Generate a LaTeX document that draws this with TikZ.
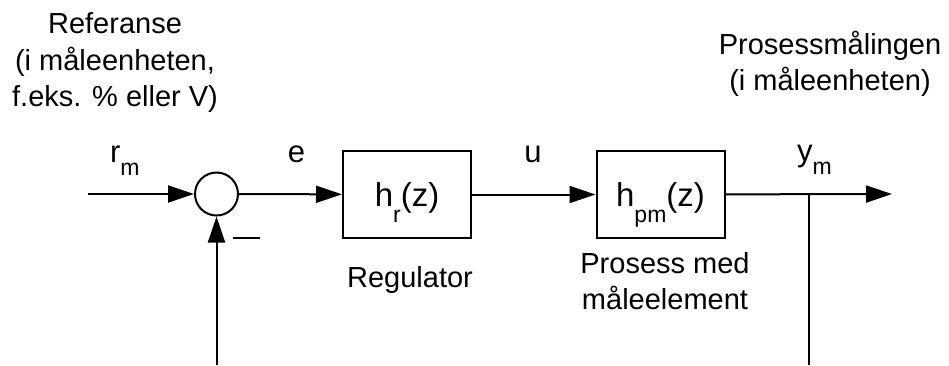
\documentclass[tikz,border=0pt]{standalone}
\usepackage{fontspec}
\setmainfont{Liberation Sans}
\usetikzlibrary{arrows.meta}
% #1 size, #2 drop, #3 text
\newcommand{\subtxt}[3]{\raisebox{-#2}{\fontsize{#1}{#1}\selectfont #3}}
\begin{document}
\begin{tikzpicture}[x=1pt,y=-1pt, line width=2pt,
  every node/.style={font=\fontsize{29}{36.5}\selectfont, inner sep=0pt},
  blockbox/.style={draw, minimum width=128pt, minimum height=87pt,
    font=\fontsize{33}{33}\selectfont, text height=23pt, text depth=0pt},
  sumcirc/.style={draw, circle, minimum size=43pt},
  sig/.style={-{Triangle[length=26pt,width=17pt]}},
  siglbl/.style={font=\fontsize{31}{31}\selectfont},
  lbl/.style={align=center}]
\useasboundingbox (0,0) rectangle (949,365);
% blocks
\node[sumcirc] (sum) at (216.5,194) {};
\node[blockbox] (reg) at (407,194.5) {h\subtxt{23}{16pt}{r}(z)};
\node[blockbox] (proc) at (660.5,194.5) {h\subtxt{23}{16pt}{pm}(z)};
% coordinates
\coordinate (in) at (88,194);
\coordinate (branch) at (809,194);
\coordinate (out) at (892,194);
\coordinate (fbbot) at (809,365);
\coordinate (sumbot) at (216.5,365);
% connectors
\draw[sig] (in) -- (sum);
\draw[sig] (sum) -- (reg);
\draw[sig] (reg) -- (proc);
\draw[sig] (proc) -- (out);
\draw (branch) -- (fbbot);
\draw[sig] (sumbot) -- (sum);
% signal labels
\node[siglbl, anchor=base west] (rm) at (109,162) {r\subtxt{23}{13pt}{m}};
\node[siglbl, anchor=base] (e) at (296.5,162) {e};
\node[siglbl, anchor=base] (u) at (533,162) {u};
\node[siglbl, anchor=base west] (ym) at (796,161) {y\subtxt{23}{13pt}{m}};
\node (minus) at (246.5,238) {\rule{27pt}{2pt}};
% descriptive texts
\node[lbl] (reftxt) at (115,63) {Referanse\\(i måleenheten,\\f.eks. \% eller V)};
\node[lbl] (meastxt) at (830,64) {Prosessmålingen\\(i måleenheten)};
\node[lbl] (regtxt) at (410,280) {Regulator};
\node[lbl] (proctxt) at (665,281) {Prosess med\\måleelement};
\end{tikzpicture}
\end{document}
